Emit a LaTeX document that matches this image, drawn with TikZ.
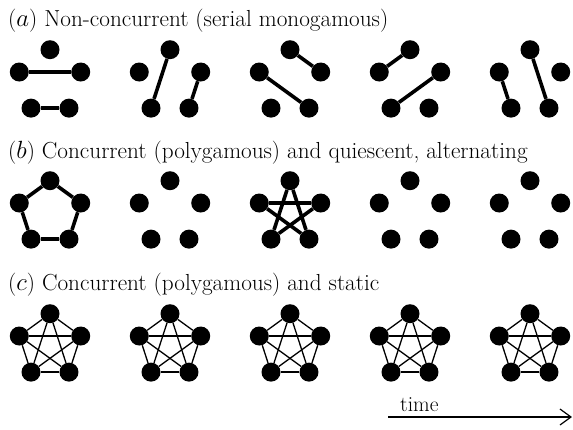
\documentclass[tikz,border=0pt]{standalone}
\usetikzlibrary{arrows.meta}

\tikzset{
  vertex/.style={circle,fill=black,inner sep=0pt,minimum size=19pt},
  thickedge/.style={line width=3.6pt},
  thinedge/.style={line width=1.3pt},
  rowlabel/.style={anchor=base west,inner sep=0pt,font=\fontsize{23.2}{27}\selectfont}
}

\begin{document}
\begin{tikzpicture}[x=1pt,y=1pt]
\useasboundingbox (0,0) rectangle (573,-429);

% row labels
\node[rowlabel] (la) at (8,-26) {($a$) Non-concurrent (serial monogamous)};
\node[rowlabel] (lb) at (8,-158) {($b$) Concurrent (polygamous) and quiescent, alternating};
\node[rowlabel] (lc) at (8,-290) {($c$) Concurrent (polygamous) and static};

% five vertices per group: 1 top, 2 left, 3 bottom left, 4 bottom right, 5 right
\foreach \r/\cy in {a/82,b/213,c/346}
  \foreach \g/\cx in {1/50,2/170,3/290,4/410,5/530}
    \foreach \k in {1,...,5}
      \node[vertex] (\r\g-\k) at ({\cx+32.3*cos(90+72*(\k-1))},{-\cy+32.3*sin(90+72*(\k-1))}) {};

% (a) pairs
\foreach \g/\i/\j in {1/2/5,1/3/4,2/1/3,2/5/4,3/2/4,3/1/5,4/2/1,4/3/5,5/2/3,5/1/4}
  \draw[thickedge] (a\g-\i) -- (a\g-\j);

% (b) pentagon and star
\foreach \i/\j in {1/2,2/3,3/4,4/5,5/1}
  \draw[thickedge] (b1-\i) -- (b1-\j);
\foreach \i/\j in {1/3,1/4,2/4,2/5,3/5}
  \draw[thickedge] (b3-\i) -- (b3-\j);

% (c) all pairs
\foreach \g in {1,...,5}
  \foreach \i/\j in {1/2,1/3,1/4,1/5,2/3,2/4,2/5,3/4,3/5,4/5}
    \draw[thinedge] (c\g-\i) -- (c\g-\j);

% time arrow
\coordinate (t0) at (388,-417);
\coordinate (t1) at (572,-417);
\draw[line width=1.2pt,-{Straight Barb[length=11pt,width=16pt]}] (t0) -- (t1);
\node[rowlabel,font=\fontsize{21.5}{25}\selectfont] (tm) at (400,-411) {time};

\end{tikzpicture}
\end{document}
